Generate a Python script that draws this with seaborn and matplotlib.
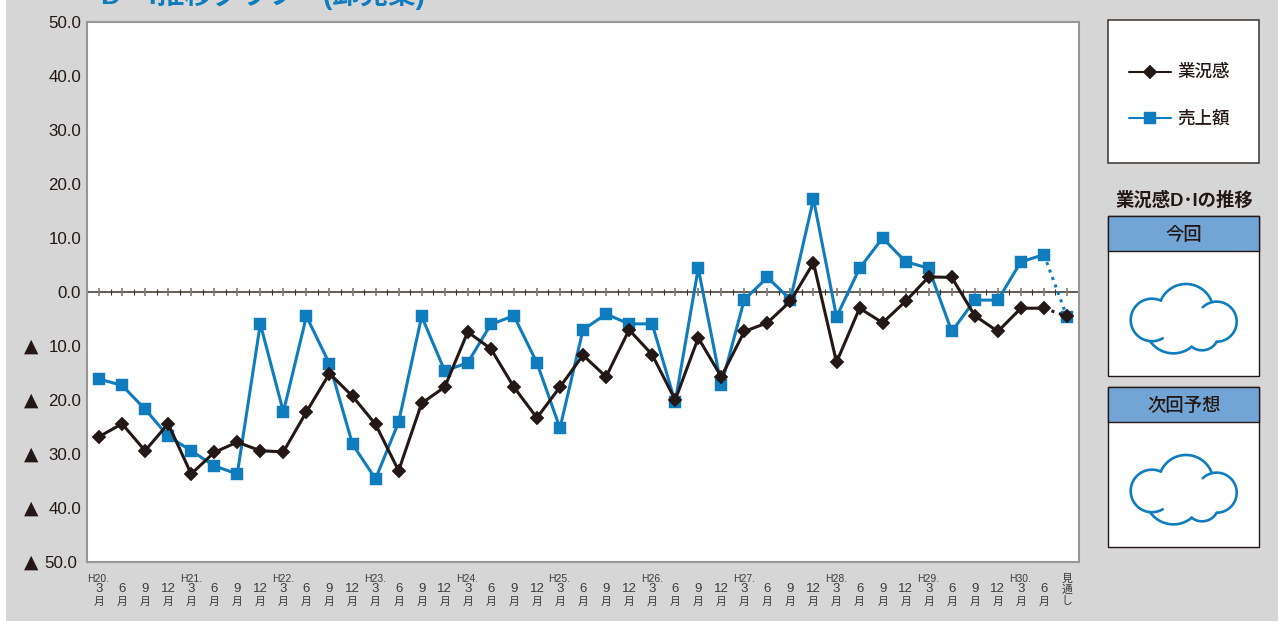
import numpy as np
import pandas as pd
import seaborn as sns
import matplotlib
matplotlib.use("Agg")
import matplotlib.pyplot as plt
from matplotlib.patches import Rectangle

sns.set_theme(style="white")
plt.rcParams['font.family'] = ['Liberation Sans', 'Noto Sans CJK JP', 'DejaVu Sans']

BLACK = '#231815'
BLUE = '#0f7cbd'
PANEL = '#d6d6d6'
HEAD = '#72a5d6'
LABEL = '#3c3c3c'

quarters = ['3', '6', '9', '12'] * 10 + ['3', '6']
years = ['H20.', 'H21.', 'H22.', 'H23.', 'H24.', 'H25.', 'H26.', 'H27.', 'H28.', 'H29.', 'H30.']
outlook_label = '見通し'

business = [-26.8, -24.4, -29.4, -24.4, -33.7, -29.7, -27.8, -29.4, -29.6, -22.2, -15.1,
            -19.3, -24.5, -33.1, -20.6, -17.6, -7.4, -10.5, -17.6, -23.3, -17.6, -11.7,
            -15.7, -7.0, -11.6, -20.0, -8.5, -15.7, -7.3, -5.7, -1.7, 5.4, -13.0, -3.0,
            -5.7, -1.7, 2.8, 2.7, -4.4, -7.3, -3.0, -3.0, -4.5]
sales = [-16.1, -17.3, -21.7, -26.7, -29.4, -32.2, -33.7, -5.9, -22.2, -4.5, -13.3,
         -28.2, -34.6, -24.1, -4.5, -14.6, -13.1, -6.0, -4.4, -13.1, -25.2, -7.0,
         -4.1, -5.9, -5.9, -20.4, 4.4, -17.3, -1.4, 2.7, -1.4, 17.2, -4.6, 4.4,
         10.0, 5.6, 4.4, -7.3, -1.5, -1.5, 5.6, 6.9, -4.6]
y_ticks = [50, 40, 30, 20, 10, 0, -10, -20, -30, -40, -50]
series_names = ['業況感', '売上額']
panel_titles = ['今回', '次回予想']
side_title = '業況感D･Iの推移'
chart_title = 'D・I推移グラフ\u3000(卸売業)'

W, H = 1278, 621
fig = plt.figure(figsize=(W / 100, H / 100), dpi=100, facecolor='white')


def px_axes(x0, y0, x1, y1, **kw):
    """Axes placed by its pixel box, measured from the top-left corner."""
    return fig.add_axes([x0 / W, 1 - y1 / H, (x1 - x0) / W, (y1 - y0) / H], **kw)


# full-figure canvas holding the grey backdrop and the text outside the plot
bg = px_axes(0, 0, W, H)
bg.set_xlim(0, W)
bg.set_ylim(H, 0)
bg.axis('off')
bg.add_patch(Rectangle((6, 0), W - 6, H, fc=PANEL, ec='none'))
bg.text(101, 4, chart_title, color=BLUE, fontsize=20, fontweight='bold', va='baseline', ha='left')

# main line chart
ax = px_axes(87, 22, 1079, 562, facecolor='white')
n = len(business)
df = pd.DataFrame({'pos': np.arange(n), 'business': business, 'sales': sales})
actual = df.iloc[:-1]
outlook = df.iloc[-2:]

for col, color, marker, size, z in [('sales', BLUE, 's', 8.3, 3), ('business', BLACK, 'D', 7.0, 4)]:
    sns.lineplot(data=actual, x='pos', y=col, ax=ax, color=color, lw=2.2, marker=marker,
                 markersize=size, markeredgecolor=color, markeredgewidth=0.3, legend=False,
                 errorbar=None, zorder=z)
    sns.lineplot(data=outlook, x='pos', y=col, ax=ax, color=color, lw=2.2, legend=False,
                 errorbar=None, linestyle=(0, (1, 1.6)), zorder=z)
    ax.plot(outlook['pos'].iloc[-1], outlook[col].iloc[-1], marker=marker, ms=size, color=color,
            mec=color, mew=0.3, zorder=z)

ax.set_xlim(-0.52, n - 1 + 0.52)
ax.set_ylim(-50, 50)
ax.set_xlabel('')
ax.set_ylabel('')
ax.set_xticks([])
ax.set_yticks([])
for s in ax.spines.values():
    s.set_color('#969696')
    s.set_linewidth(1.5)

# zero line: heavier grey ticks on each quarter, thin dark ticks half-way between
ax.axhline(0, color='#4a4038', lw=1.2, zorder=2)
ax.vlines(np.arange(n + 1) - 0.5, -0.55, 0.55, color='#3a332d', lw=0.8, zorder=2)
ax.vlines(np.arange(n), -0.75, 0.75, color='#7d7873', lw=1.2, zorder=2)

# value axis labels, with a triangle standing in for the minus sign
for v in y_ticks:
    y = 292 - v * 5.4
    if v < 0:
        bg.text(31, y, '▲', color=BLACK, fontsize=13.5, ha='center', va='center',
                family=['DejaVu Sans'])
    right = 77.5 if v == -50 else 81
    bg.text(right, y + 1, f'{abs(v):.1f}', color=BLACK, fontsize=12.2, ha='right', va='center')

# month labels under the plot
xpos = 99 + np.arange(n) * (1067 - 99) / (n - 1)
for i, q in enumerate(quarters):
    if i % 4 == 0:
        bg.text(xpos[i] - 0.5, 579, years[i // 4], color=LABEL, fontsize=7.5, ha='center', va='center')
    bg.text(xpos[i], 589.5, q, color=LABEL, fontsize=9.5, ha='center', va='center')
    bg.text(xpos[i], 601.5, '月', color=LABEL, fontsize=7.8, ha='center', va='center')
for j, ch in enumerate(outlook_label):
    bg.text(xpos[-1], 579 + j * 11, ch, color=LABEL, fontsize=7.8, ha='center', va='center')

# legend box
bg.add_patch(Rectangle((1108, 19.5), 151, 143, fc='white', ec='#3a332d', lw=1.1))
for yy, color, marker, size, name in [(71.5, BLACK, 'D', 7.2, series_names[0]),
                                      (118, BLUE, 's', 9, series_names[1])]:
    bg.plot([1128.5, 1170.5], [yy, yy], color=color, lw=1.5)
    bg.plot([1149.5], [yy], marker=marker, ms=size, color=color, mec=color, mew=0.3)
    bg.text(1177, yy, name, color=BLACK, fontsize=12.6, fontweight='medium', va='center', ha='left')

bg.text(1184, 200.5, side_title, color=BLACK, fontsize=13.2, fontweight='bold', ha='center', va='center')


def arc_through(p0, p1, p2, n_pts=60):
    """Points along the circular arc from p0 to p2 passing through p1."""
    (ax_, ay), (bx, by), (cx, cy) = p0, p1, p2
    d = 2 * (ax_ * (by - cy) + bx * (cy - ay) + cx * (ay - by))
    ux = ((ax_**2 + ay**2) * (by - cy) + (bx**2 + by**2) * (cy - ay) + (cx**2 + cy**2) * (ay - by)) / d
    uy = ((ax_**2 + ay**2) * (cx - bx) + (bx**2 + by**2) * (ax_ - cx) + (cx**2 + cy**2) * (bx - ax_)) / d
    r = np.hypot(ax_ - ux, ay - uy)
    t0, t1, t2 = [np.arctan2(py - uy, px - ux) for px, py in (p0, p1, p2)]
    # unwrap so the sweep from t0 to t2 runs through t1
    t1 = t0 + (t1 - t0) % (2 * np.pi)
    t2 = t0 + (t2 - t0) % (2 * np.pi)
    if t1 > t2:
        t2 -= 2 * np.pi
    t = np.linspace(t0, t2, n_pts)
    return ux + r * np.cos(t), uy + r * np.sin(t)


# cloud outline strokes, as (start, through, end) offsets from the cloud's centre
cloud_strokes = [
    ((-21.3, 18.3), (-53.3, 0), (-23, -19.3)),   # left lobe
    ((-23, -20), (1, -36), (27.7, -18.3)),       # top lobe
    ((18.7, -12.7), (52.7, 1.7), (32.7, 21.7)),  # right lobe
    ((-34, 21), (-12.3, 33.3), (7.7, 26.7)),     # lower-left bulge
    ((7.7, 26.7), (18.7, 30.3), (32.7, 21.7)),   # lower-right bulge
]


def cloud(cx, cy):
    for a, b, c in cloud_strokes:
        xs, ys = arc_through(a, b, c)
        bg.plot(cx + xs, cy + ys, color=BLUE, lw=1.9, solid_capstyle='round')


# weather panels for the current and next survey
for (top, head_bottom, bottom, title) in [(215.5, 251, 376, panel_titles[0]),
                                          (386.5, 422, 547, panel_titles[1])]:
    bg.add_patch(Rectangle((1108, top), 151, bottom - top, fc='white', ec=BLACK, lw=1.0))
    bg.add_patch(Rectangle((1108, top), 151, head_bottom - top, fc=HEAD, ec=BLACK, lw=1.0))
    bg.text(1184, (top + head_bottom) / 2 + 2, title, color=BLACK, fontsize=13.2, fontweight='medium',
            ha='center', va='center')
    cloud(1184, head_bottom + 69)

bg.set_xlim(0, W)
bg.set_ylim(H, 0)
fig.savefig('out.png', dpi=100, facecolor='white')
